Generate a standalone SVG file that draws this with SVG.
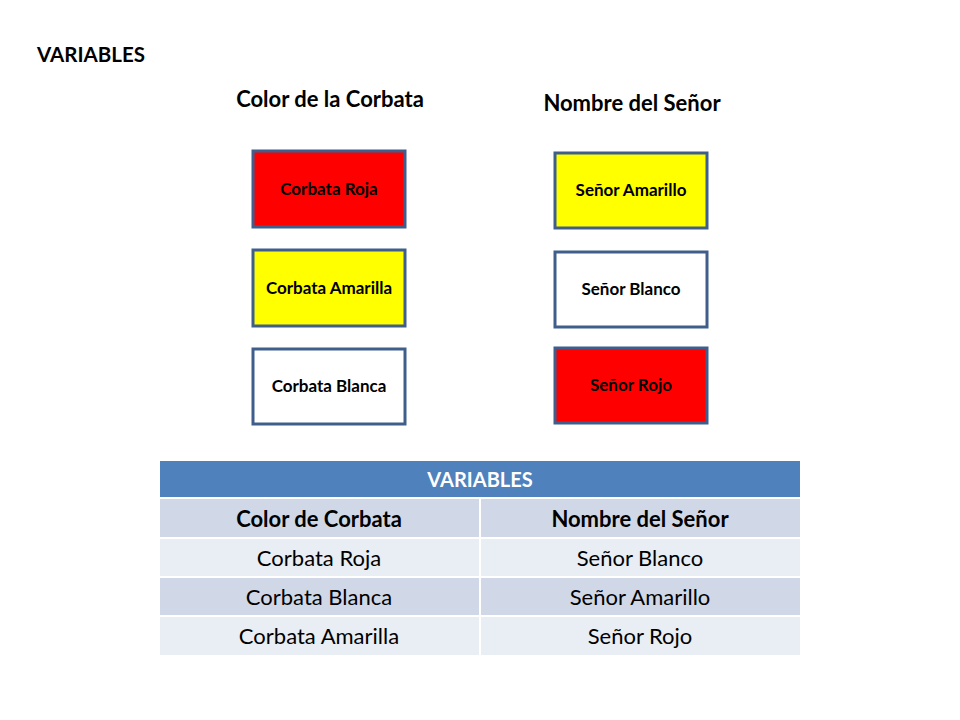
<svg xmlns="http://www.w3.org/2000/svg" width="960" height="720" viewBox="0 0 960 720">
<style>
text{font-family:Lato,"Open Sans","Liberation Sans",sans-serif;fill:#000}
.box{stroke:#3F5E8C;stroke-width:3}
.bl{font-size:17px;font-weight:bold;text-anchor:middle}
.h{font-size:22px;font-weight:bold}
.tc{font-size:22px;text-anchor:middle}
.tb{font-size:22px;font-weight:bold;text-anchor:middle}
</style>
<rect width="960" height="720" fill="#fff"/>
<text class="h" x="37" y="62" style="font-size:20.5px">VARIABLES</text>
<text class="h" x="330" y="107" text-anchor="middle">Color de la Corbata</text>
<text class="h" x="632" y="111" text-anchor="middle">Nombre del Señor</text>
<g id="corbata-roja"><rect class="box" x="253" y="151" width="152" height="76" fill="#FF0000"/><text class="bl" x="329" y="195">Corbata Roja</text></g>
<g id="corbata-amarilla"><rect class="box" x="253" y="250" width="152" height="76" fill="#FFFF00"/><text class="bl" x="329" y="294">Corbata Amarilla</text></g>
<g id="corbata-blanca"><rect class="box" x="253" y="349" width="152" height="75" fill="#FFFFFF"/><text class="bl" x="329" y="392">Corbata Blanca</text></g>
<g id="senor-amarillo"><rect class="box" x="555" y="153" width="152" height="75" fill="#FFFF00"/><text class="bl" x="631" y="196">Señor Amarillo</text></g>
<g id="senor-blanco"><rect class="box" x="555" y="252" width="152" height="75" fill="#FFFFFF"/><text class="bl" x="631" y="295">Señor Blanco</text></g>
<g id="senor-rojo"><rect class="box" x="555" y="348" width="152" height="75" fill="#FF0000"/><text class="bl" x="631" y="391">Señor Rojo</text></g>
<g id="table">
<rect x="160" y="461" width="640" height="36" fill="#4F81BD"/>
<rect x="160" y="499" width="319" height="38" fill="#D0D8E8"/>
<rect x="481" y="499" width="319" height="38" fill="#D0D8E8"/>
<rect x="160" y="539" width="319" height="37" fill="#E9EDF4"/>
<rect x="481" y="539" width="319" height="37" fill="#E9EDF4"/>
<rect x="160" y="578" width="319" height="37" fill="#D0D8E8"/>
<rect x="481" y="578" width="319" height="37" fill="#D0D8E8"/>
<rect x="160" y="617" width="319" height="38" fill="#E9EDF4"/>
<rect x="481" y="617" width="319" height="38" fill="#E9EDF4"/>
<text class="tb" x="480" y="487" style="fill:#fff;font-size:20px">VARIABLES</text>
<text class="tb" x="319" y="527">Color de Corbata</text>
<text class="tb" x="640" y="527">Nombre del Señor</text>
<text class="tc" x="319" y="566">Corbata Roja</text>
<text class="tc" x="640" y="566">Señor Blanco</text>
<text class="tc" x="319" y="605">Corbata Blanca</text>
<text class="tc" x="640" y="605">Señor Amarillo</text>
<text class="tc" x="319" y="644">Corbata Amarilla</text>
<text class="tc" x="640" y="644">Señor Rojo</text>
</g>
</svg>
